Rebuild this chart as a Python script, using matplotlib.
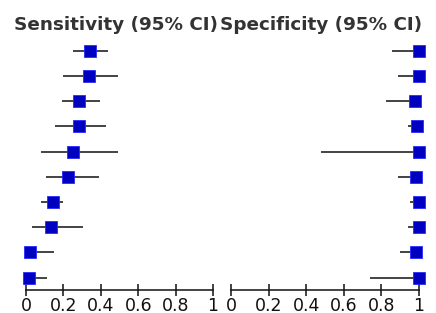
import matplotlib
matplotlib.use("Agg")
import matplotlib.pyplot as plt
import numpy as np

# study rows, top to bottom
sens = [0.34, 0.335, 0.285, 0.285, 0.25, 0.225, 0.143, 0.132, 0.023, 0.016]
sens_lo = [0.25, 0.20, 0.19, 0.155, 0.08, 0.105, 0.08, 0.03, 0.0, 0.0]
sens_hi = [0.44, 0.49, 0.395, 0.43, 0.49, 0.39, 0.20, 0.305, 0.15, 0.11]

spec = [1.0, 1.0, 0.977, 0.99, 1.0, 0.982, 1.0, 1.0, 0.982, 1.0]
spec_lo = [0.855, 0.89, 0.823, 0.94, 0.48, 0.89, 0.95, 0.94, 0.90, 0.74]
spec_hi = [1.0, 1.0, 1.0, 1.0, 1.0, 1.0, 1.0, 1.0, 1.0, 1.0]

ticks = [0, 0.2, 0.4, 0.6, 0.8, 1]
tick_labels = ["0", "0.2", "0.4", "0.6", "0.8", "1"]
titles = ["Sensitivity (95% CI)", "Specificity (95% CI)"]

W, H = 436, 313
fig = plt.figure(figsize=(W / 100, H / 100), dpi=100)

ax_bottom = (H - 290) / H
ax_height = (290 - 38) / H
ax1 = fig.add_axes([26 / W, ax_bottom, 187 / W, ax_height])
ax2 = fig.add_axes([231 / W, ax_bottom, 188 / W, ax_height])

rows = np.arange(1, len(sens) + 1)

def forest(ax, est, lo, hi):
    ax.hlines(rows, lo, hi, color="#111111", lw=1.1, zorder=1, clip_on=False)
    ax.plot(est, rows, ls="none", marker="s", ms=8, mfc="#0000c0",
            mec="#2a2aff", mew=0.6, zorder=2, clip_on=False)
    ax.set_xlim(0, 1)
    ax.set_ylim(10.49, 0.5)
    for s in ["top", "left", "right"]:
        ax.spines[s].set_visible(False)
    ax.spines["bottom"].set_linewidth(1.1)
    ax.spines["bottom"].set_color("#111111")
    ax.set_yticks([])
    ax.set_xticks(ticks)
    ax.set_xticklabels(tick_labels)
    ax.tick_params(axis="x", direction="inout", length=8.5, width=1.1,
                   labelsize=12.5, colors="#111111", pad=1)
    ax.patch.set_alpha(0)

forest(ax1, sens, sens_lo, sens_hi)
forest(ax2, spec, spec_lo, spec_hi)

fig.text(115.5 / W, 1 - 30 / H, titles[0], ha="center", va="baseline",
         fontsize=13.2, fontweight="bold", color="#333333")
fig.text(321.5 / W, 1 - 30 / H, titles[1], ha="center", va="baseline",
         fontsize=13.2, fontweight="bold", color="#333333")

fig.savefig("out.png", dpi=100)
